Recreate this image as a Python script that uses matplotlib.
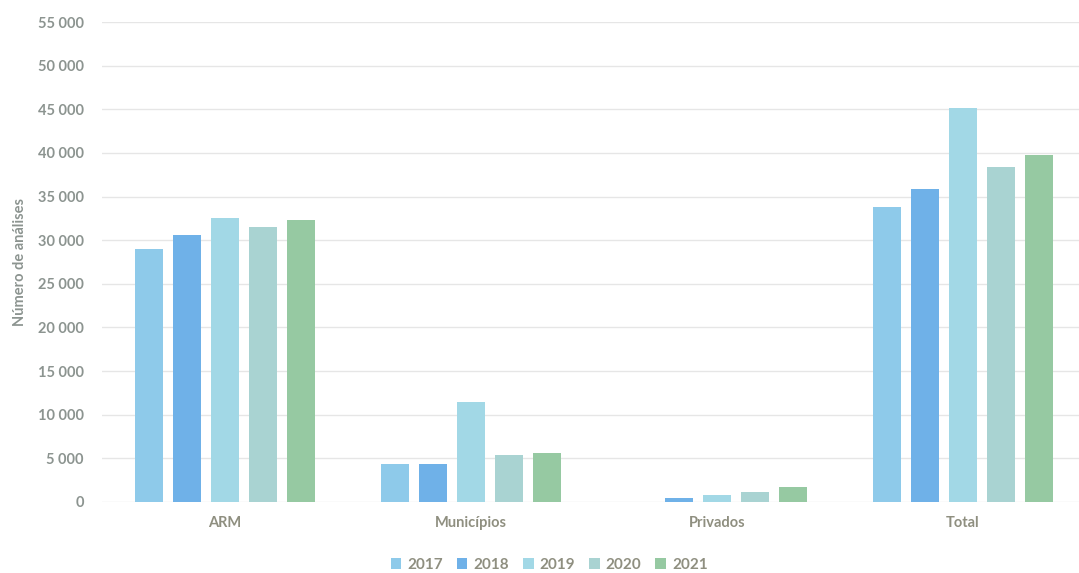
import matplotlib
matplotlib.use("Agg")
import matplotlib.pyplot as plt
from matplotlib.ticker import FuncFormatter, MultipleLocator
import numpy as np

categories = ["ARM", "Municípios", "Privados", "Total"]
years = ["2017", "2018", "2019", "2020", "2021"]
values = {
    "2017": [29000, 4350, 0, 33800],
    "2018": [30600, 4350, 500, 35900],
    "2019": [32500, 11450, 800, 45100],
    "2020": [31500, 5400, 1100, 38400],
    "2021": [32300, 5600, 1700, 39800],
}
colors = ["#8ECAEA", "#6FB1E8", "#A2D8E6", "#A9D3D2", "#96C9A2"]

plt.rcParams["font.family"] = ["Lato", "DejaVu Sans"]
text_color = "#8C9490"
legend_text = "#8F8F80"

fig = plt.figure(figsize=(10.79, 5.73), dpi=100)
ax = fig.add_axes([102 / 1079, 0.124, 984 / 1079, 0.8376])

x = np.arange(len(categories))
width = 0.114
step = 0.1545
for i, yr in enumerate(years):
    ax.bar(x + (i - 2) * step, values[yr], width=width, color=colors[i],
           label=yr, zorder=3)

ax.set_xlim(-0.5, 3.5)
ax.set_ylim(0, 55000)
ax.yaxis.set_major_locator(MultipleLocator(5000))
ax.yaxis.set_major_formatter(FuncFormatter(
    lambda v, p: f"{int(v):,}".replace(",", " ")))
ax.grid(axis="y", color="#E6E6E6", linewidth=1, zorder=0)
for s in ax.spines.values():
    s.set_visible(False)
ax.tick_params(axis="both", length=0, colors=text_color, labelsize=10.5)
ax.tick_params(axis="y", pad=13)
ax.tick_params(axis="x", pad=10)
ax.set_xticks(x)
ax.set_xticklabels(categories, fontweight="bold", color=legend_text)
for lbl in ax.get_yticklabels():
    lbl.set_fontweight("bold")
ax.set_ylabel("Número de análises", color=text_color, fontsize=10.5,
              fontweight="bold", labelpad=8)

leg = fig.legend(loc="lower center", bbox_to_anchor=(0.509, -0.022), ncol=5,
                 frameon=False, handlelength=0.7, handleheight=0.7,
                 handletextpad=0.4, columnspacing=0.9, fontsize=11)
for t in leg.get_texts():
    t.set_color(legend_text)
    t.set_fontweight("bold")

fig.savefig("out.png", dpi=100, facecolor="white")
